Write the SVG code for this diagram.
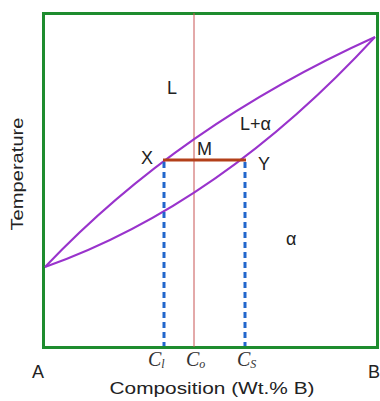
<svg xmlns="http://www.w3.org/2000/svg" width="380" height="401" viewBox="0 0 380 401">
<style>
.t{font-family:"Liberation Sans",Arial,sans-serif;fill:#222}
.c{font-family:"Liberation Serif","Times New Roman",serif;font-style:italic;fill:#333}
.curve{fill:none;stroke:#9933cc;stroke-width:2}
.dash{stroke:#2266cc;stroke-width:3;stroke-dasharray:6,4}
</style>
<rect width="380" height="401" fill="#fff"/>
<g id="frame"><rect x="43.5" y="13.5" width="334" height="334" fill="none" stroke="#1e8c2e" stroke-width="3"/></g>
<g id="connectors">
<line x1="194" y1="13" x2="194" y2="347" stroke="#c85555" stroke-width="1"/>
<path class="curve" d="M45,267 Q180,125 375,37"/>
<path class="curve" d="M45,267 Q220,205 375,37"/>
<line class="dash" x1="164" y1="162" x2="164" y2="346"/>
<line class="dash" x1="245" y1="162" x2="245" y2="346"/>
<line x1="163" y1="160" x2="246" y2="160" stroke="#b3401a" stroke-width="3"/>
</g>
<g id="labels">
<text class="t" x="167" y="94" font-size="18">L</text>
<text class="t" x="240" y="130" font-size="18">L+α</text>
<text class="t" x="141" y="164" font-size="18">X</text>
<text class="t" x="197" y="155" font-size="18">M</text>
<text class="t" x="258" y="170" font-size="18">Y</text>
<text class="t" x="286" y="245" font-size="18">α</text>
<text class="t" x="23" y="174" font-size="17" text-anchor="middle" textLength="113" lengthAdjust="spacingAndGlyphs" transform="rotate(-90 23 174)">Temperature</text>
<text class="t" x="32" y="378" font-size="18">A</text>
<text class="t" x="368" y="378" font-size="18">B</text>
<text class="c" x="148" y="366" font-size="20">C<tspan font-size="12" dy="2">l</tspan></text>
<text class="c" x="186" y="366" font-size="20">C<tspan font-size="12" dy="2">o</tspan></text>
<text class="c" x="237" y="366" font-size="20">C<tspan font-size="12" dy="2">S</tspan></text>
<text class="t" x="212" y="394" font-size="17" text-anchor="middle" textLength="205" lengthAdjust="spacingAndGlyphs">Composition (Wt.% B)</text>
</g>
</svg>
